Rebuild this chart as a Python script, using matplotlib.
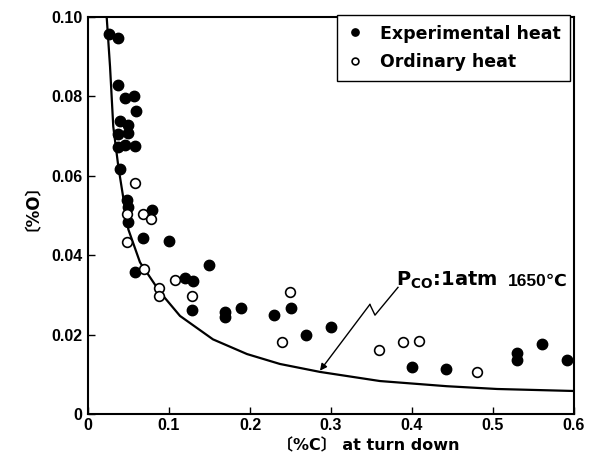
import matplotlib
matplotlib.use("Agg")
import matplotlib.pyplot as plt

# ---- data ----
filled_x = [0.026, 0.037, 0.037, 0.046, 0.057, 0.059, 0.039, 0.049, 0.049, 0.037,
            0.037, 0.046, 0.058, 0.039, 0.048, 0.049, 0.079, 0.049, 0.068, 0.100,
            0.149, 0.058, 0.120, 0.130, 0.129, 0.169, 0.169, 0.189, 0.230, 0.250,
            0.269, 0.300, 0.400, 0.442, 0.530, 0.530, 0.560, 0.591]
filled_y = [0.0957, 0.0946, 0.0829, 0.0797, 0.0800, 0.0762, 0.0739, 0.0729, 0.0708, 0.0706,
            0.0673, 0.0678, 0.0674, 0.0617, 0.0540, 0.0522, 0.0515, 0.0484, 0.0443, 0.0435,
            0.0375, 0.0357, 0.0343, 0.0335, 0.0262, 0.0258, 0.0244, 0.0268, 0.0249, 0.0268,
            0.0199, 0.0220, 0.0119, 0.0113, 0.0153, 0.0136, 0.0176, 0.0136]

open_x = [0.058, 0.048, 0.0675, 0.078, 0.048, 0.069, 0.088, 0.088, 0.107, 0.129,
          0.239, 0.249, 0.359, 0.389, 0.409, 0.480]
open_y = [0.0582, 0.0504, 0.0503, 0.0492, 0.0433, 0.0364, 0.0318, 0.0297, 0.0337, 0.0297,
          0.0182, 0.0308, 0.0162, 0.0182, 0.0183, 0.0105]

curve_x = [0.023, 0.0272, 0.0312, 0.0374, 0.0426, 0.0498, 0.0642, 0.0889, 0.1136,
           0.1543, 0.1963, 0.237, 0.2864, 0.3605, 0.443, 0.505, 0.599]
curve_y = [0.1002, 0.0875, 0.0724, 0.0624, 0.0557, 0.0465, 0.0382, 0.0307, 0.0247,
           0.0188, 0.0151, 0.0126, 0.0106, 0.0083, 0.0070, 0.0063, 0.0058]

x_ticks = [0, 0.1, 0.2, 0.3, 0.4, 0.5, 0.6]
x_labels = ["0", "0.1", "0.2", "0.3", "0.4", "0.5", "0.6"]
y_ticks = [0, 0.02, 0.04, 0.06, 0.08, 0.10]
y_labels = ["0", "0.02", "0.04", "0.06", "0.08", "0.10"]

label_fam = ["DejaVu Sans", "Noto Sans CJK JP"]
tick_fam = ["Liberation Sans", "DejaVu Sans"]

W, H = 591, 457
fig = plt.figure(figsize=(W / 100, H / 100), dpi=100)
ax = fig.add_axes([88 / W, 1 - 414 / H, (574 - 88) / W, (414 - 17) / H])

ax.plot(curve_x, curve_y, color="black", lw=1.6, zorder=2, clip_on=True)
ax.plot(filled_x, filled_y, "o", color="black", ms=7.5, zorder=3, label="Experimental heat")
ax.plot(open_x, open_y, "o", mfc="white", mec="black", mew=1.2, ms=7, zorder=4,
        label="Ordinary heat")

ax.set_xlim(0, 0.6)
ax.set_ylim(0, 0.10)
ax.set_xticks(x_ticks)
ax.set_xticklabels(x_labels)
ax.set_yticks(y_ticks)
ax.set_yticklabels(y_labels)
ax.tick_params(direction="in", length=5, width=1, labelsize=11.5)
ax.tick_params(axis="x", pad=3)
ax.tick_params(axis="y", pad=4)
for lab in ax.get_xticklabels() + ax.get_yticklabels():
    lab.set_family(tick_fam)
    lab.set_fontweight("bold")
for s in ax.spines.values():
    s.set_linewidth(1.5)

# annotation zigzag arrow
ax.plot([0.3827, 0.3543, 0.348], [0.0319, 0.0249, 0.0276], color="black", lw=1)
ax.annotate("", xy=(0.2864, 0.0109), xytext=(0.348, 0.0276),
            arrowprops=dict(arrowstyle="-|>", color="black", lw=1,
                            mutation_scale=10, shrinkA=0, shrinkB=0))
ax.text(0.3805, 0.0322, r"P$_\mathregular{CO}$:1atm", fontsize=14, fontweight="bold",
        ha="left", va="baseline", family=label_fam)
ax.text(0.5926, 0.0322, "1650℃", fontsize=12.5, fontweight="bold",
        ha="right", va="baseline", family=tick_fam)

leg = ax.legend(loc="upper right", bbox_to_anchor=(570 / W, 1 - 15 / H),
                bbox_transform=fig.transFigure, borderaxespad=0, frameon=True,
                fancybox=False, edgecolor="black", framealpha=1, markerscale=0.7,
                handlelength=0.9, handletextpad=1.0, borderpad=0.55, labelspacing=0.6,
                prop=dict(family=label_fam, weight="bold", size=12.5))
leg.get_frame().set_linewidth(1)

fig.text(368 / W, 1 - 446 / H, "〔%C〕 at turn down", fontsize=11.5, fontweight="bold",
         ha="center", va="center", family=label_fam)
fig.text(24 / W, 1 - 199 / H, "〔%O〕", fontsize=12, fontweight="bold", rotation=90,
         ha="center", va="center", family=label_fam)

fig.savefig("out.png", dpi=100)
